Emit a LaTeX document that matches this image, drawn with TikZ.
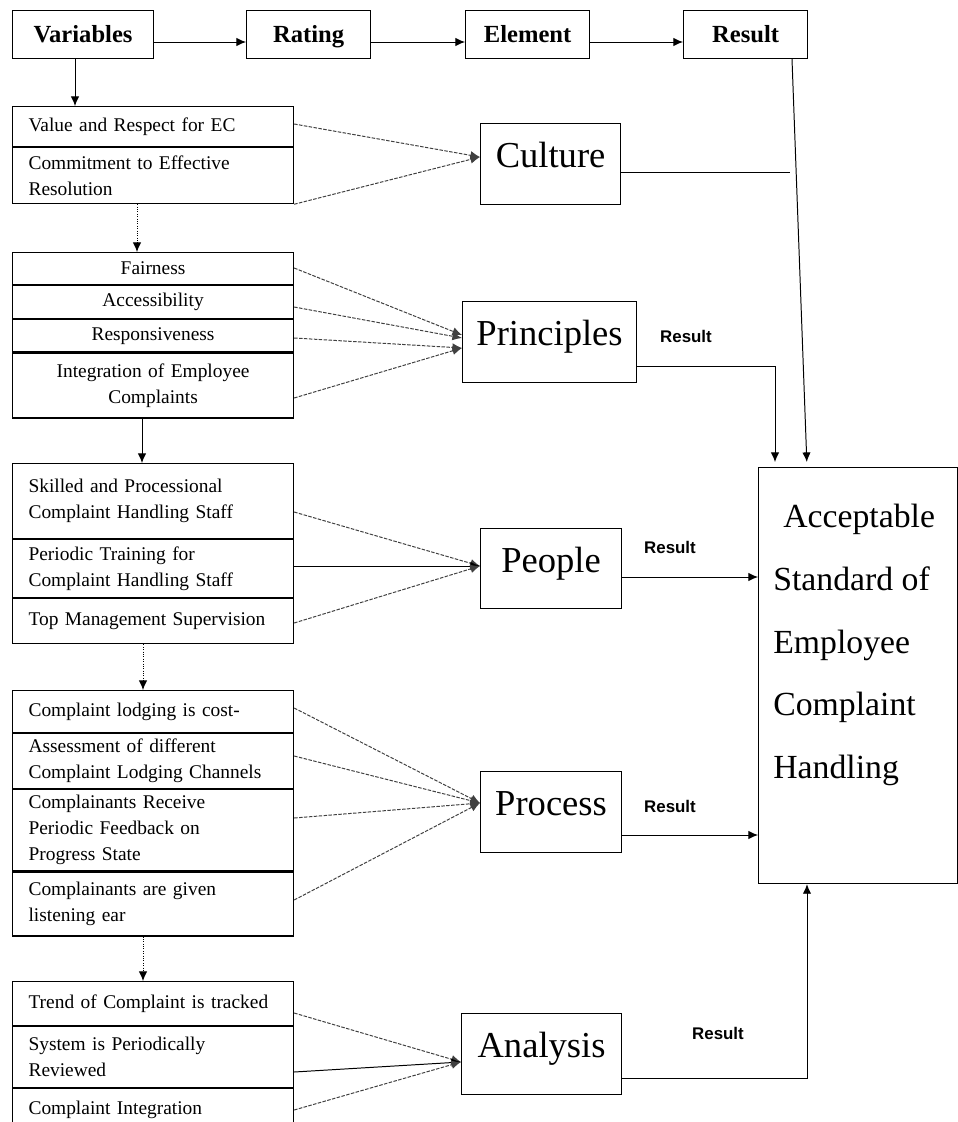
\documentclass[tikz,border=0pt]{standalone}
\usepackage{fontspec}
\setmainfont{Liberation Serif}
\newfontfamily\labelsans{Liberation Sans}
\usetikzlibrary{arrows.meta}

\begin{document}
\begin{tikzpicture}[x=0.25mm,y=-0.25mm,
		head/.style={draw,line width=0.8pt,anchor=north west,minimum width=31mm,minimum height=12mm,inner sep=0pt,text height=12pt,text depth=0pt,font=\fontsize{17.5}{21}\selectfont\bfseries},
		cell/.style={draw,line width=0.8pt,anchor=north west,text width=62.25mm,inner xsep=4mm,inner ysep=0pt,align=left,font=\fontsize{13.8}{18.5}\selectfont},
		ccell/.style={cell,align=center},
		elbox/.style={draw,line width=0.8pt,anchor=north west,minimum height=20.25mm,inner sep=0pt,text height=19pt,text depth=14pt,font=\fontsize{26}{30}\selectfont},
		bigbox/.style={draw,line width=0.8pt,anchor=north west,minimum width=49.75mm,minimum height=104mm,inner sep=0pt},
		goal/.style={anchor=north west,inner sep=0pt,align=left,font=\fontsize{24}{44.6}\selectfont},
		reslab/.style={font=\labelsans\bfseries\fontsize{12}{14}\selectfont},
		arr/.style={-{Latex[length=2.4mm,width=2.1mm]},line width=0.7pt},
		feed/.style={arr,draw=black!75,dash pattern=on 2.5pt off 1pt},
		dots/.style={arr,densely dotted}]
		\path[use as bounding box,fill=white] (0,0) rectangle (958,1122);

		% header row
		\node[head,minimum width=35.25mm] (variables) at (12,10) {Variables};
		\node[head] (rating) at (246,10) {Rating};
		\node[head] (element) at (465,10) {Element};
		\node[head] (result) at (683,10) {Result};

		% Culture variables
		\node[cell,minimum height=10mm] (cu1) at (12,106) {Value and Respect for EC};
		\node[cell,minimum height=14mm] (cu2) at (cu1.south west) {Commitment to Effective\\Resolution};
		% Principles variables
		\node[ccell,minimum height=8mm] (pr1) at (12,252) {Fairness};
		\node[ccell,minimum height=8.25mm] (pr2) at (pr1.south west) {Accessibility};
		\node[ccell,minimum height=8mm] (pr3) at (pr2.south west) {Responsiveness};
		\node[ccell,minimum height=16.25mm] (pr4) at (pr3.south west) {Integration of Employee\\Complaints};
		% People variables
		\node[cell,minimum height=18.75mm] (pe1) at (12,463) {Skilled and Processional\\Complaint Handling Staff};
		\node[cell,minimum height=14.5mm] (pe2) at (pe1.south west) {Periodic Training for\\Complaint Handling Staff};
		\node[cell,minimum height=11.25mm] (pe3) at (pe2.south west) {Top Management Supervision};
		% Process variables
		\node[cell,minimum height=10.5mm] (ps1) at (12,690) {Complaint lodging is cost-};
		\node[cell,minimum height=13.75mm] (ps2) at (ps1.south west) {Assessment of different\\Complaint Lodging Channels};
		\node[cell,minimum height=20.25mm] (ps3) at (ps2.south west) {Complainants Receive\\Periodic Feedback on\\Progress State};
		\node[cell,minimum height=16mm] (ps4) at (ps3.south west) {Complainants are given\\listening ear};
		% Analysis variables
		\node[cell,minimum height=11mm] (an1) at (12,981) {Trend of Complaint is tracked};
		\node[cell,minimum height=15.25mm] (an2) at (an1.south west) {System is Periodically\\Reviewed};
		\node[cell,minimum height=10.5mm] (an3) at (an2.south west) {Complaint Integration};

		% elements
		\node[elbox,minimum width=35mm] (culture) at (480,123) {Culture};
		\node[elbox,minimum width=43.5mm] (principles) at (462,301) {Principles};
		\node[elbox,minimum width=35.25mm,minimum height=20mm] (people) at (480,528) {People};
		\node[elbox,minimum width=35.25mm] (process) at (480,771) {Process};
		\node[elbox,minimum width=40mm] (analysis) at (461,1013) {Analysis};

		% result
		\node[bigbox] (standard) at (758,467) {};
		\node[goal] (goaltext) at (773,504) {\hspace*{2.5mm}Acceptable\\Standard of\\Employee\\Complaint\\Handling};
		\node[reslab] (resprin) at (686,336) {Result};
		\node[reslab] (respeop) at (670,547) {Result};
		\node[reslab] (resproc) at (670,806) {Result};
		\node[reslab] (resanal) at (718,1033) {Result};
		\coordinate (cujoin) at (790,172);

		% header flow
		\draw[arr] (variables.east |- 0,42) -- (rating.west |- 0,42);
		\draw[arr] (rating.east |- 0,42) -- (element.west |- 0,42);
		\draw[arr] (element.east |- 0,42) -- (result.west |- 0,42);
		\draw[arr] (variables.south -| 75,0) -- (cu1.north -| 75,0);

		% down the variable column
		\draw[dots] (cu2.south -| 137,0) -- (pr1.north -| 137,0);
		\draw[arr] (pr4.south -| 142,0) -- (pe1.north -| 142,0);
		\draw[dots] (pe3.south -| 143,0) -- (ps1.north -| 143,0);
		\draw[dots] (ps4.south -| 143,0) -- (an1.north -| 143,0);

		% variables to elements
		\draw[feed] (cu1.east |- 0,124) -- (culture.west |- 0,157);
		\draw[feed] (cu2.south east) -- (culture.west |- 0,157);
		\draw[feed] (pr1.east |- 0,268) -- (principles.west |- 0,335);
		\draw[feed] (pr2.east |- 0,307) -- (principles.west |- 0,338);
		\draw[feed] (pr3.east |- 0,338) -- (principles.west |- 0,348);
		\draw[feed] (pr4.east |- 0,398) -- (principles.west |- 0,348);
		\draw[feed] (pe1.east |- 0,512) -- (people.west |- 0,566);
		\draw[arr] (pe2.east |- 0,566) -- (people.west |- 0,566);
		\draw[feed] (pe3.east |- 0,623) -- (people.west |- 0,566);
		\draw[feed] (ps1.east |- 0,708) -- (process.west |- 0,803);
		\draw[feed] (ps2.east |- 0,756) -- (process.west |- 0,803);
		\draw[feed] (ps3.east |- 0,818) -- (process.west |- 0,803);
		\draw[feed] (ps4.east |- 0,900) -- (process.west |- 0,803);
		\draw[feed] (an1.east |- 0,1013) -- (analysis.west |- 0,1062);
		\draw[arr] (an2.east |- 0,1072) -- (analysis.west |- 0,1062);
		\draw[feed] (an3.east |- 0,1110) -- (analysis.west |- 0,1062);

		% elements to result
		\draw[line width=0.7pt] (culture.east |- cujoin) -- (cujoin);
		\draw[arr,shorten >=1.25mm] (result.south -| 792,0) -- (standard.north -| 807,0);
		\draw[arr,shorten >=1.25mm] (principles.east |- 0,366) -| (standard.north -| 775,0);
		\draw[arr] (people.east |- 0,577) -- (standard.west |- 0,577);
		\draw[arr] (process.east |- 0,835) -- (standard.west |- 0,835);
		\draw[arr] (analysis.east |- 0,1078) -| (standard.south -| 807,0);
	\end{tikzpicture}
\end{document}
